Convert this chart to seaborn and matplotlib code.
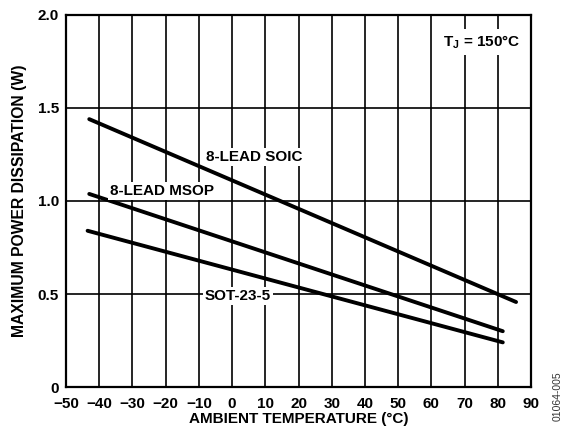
import matplotlib
matplotlib.use("Agg")
import matplotlib.pyplot as plt
import seaborn as sns
import pandas as pd

# Data
soic_temp = [-43.0, 85.5]
soic_power = [1.44, 0.457]
msop_temp = [-43.0, 81.5]
msop_power = [1.038, 0.30]
sot_temp = [-43.5, 81.5]
sot_power = [0.84, 0.24]

x_ticks = [-50, -40, -30, -20, -10, 0, 10, 20, 30, 40, 50, 60, 70, 80, 90]
y_ticks = [0, 0.5, 1.0, 1.5, 2.0]
y_tick_labels = ["0", "0.5", "1.0", "1.5", "2.0"]

rows = []
for name, xs, ys in [("8-LEAD SOIC", soic_temp, soic_power),
                     ("8-LEAD MSOP", msop_temp, msop_power),
                     ("SOT-23-5", sot_temp, sot_power)]:
    for x, y in zip(xs, ys):
        rows.append({"pkg": name, "temp": x, "power": y})
df = pd.DataFrame(rows)

sns.set_theme(style="white")
plt.rcParams["font.family"] = ["Liberation Sans", "DejaVu Sans"]
plt.rcParams["font.weight"] = "bold"
plt.rcParams["text.color"] = "black"
plt.rcParams["axes.labelcolor"] = "black"
plt.rcParams["xtick.color"] = "black"
plt.rcParams["ytick.color"] = "black"
plt.rcParams["mathtext.fontset"] = "custom"
plt.rcParams["mathtext.rm"] = "Liberation Sans:bold"
plt.rcParams["mathtext.bf"] = "Liberation Sans:bold"

fig = plt.figure(figsize=(5.7, 4.33), dpi=100)
ax = fig.add_axes([0.1158, 0.1062, 0.8158, 0.8592])

ax.set_xlim(-50, 90)
ax.set_ylim(0, 2.0)
ax.set_xticks(x_ticks)
ax.set_yticks(y_ticks)
ax.set_yticklabels(y_tick_labels)
ax.grid(True, color="black", linewidth=1.2)
ax.set_axisbelow(True)

sns.lineplot(data=df, x="temp", y="power", units="pkg", estimator=None,
             color="black", linewidth=2.8, ax=ax, legend=False, zorder=3)

for s in ax.spines.values():
    s.set_color("black")
    s.set_linewidth(1.6)
ax.tick_params(axis="x", length=0, labelsize=11, colors="black", pad=7)
ax.tick_params(axis="y", length=0, labelsize=11, colors="black", pad=5)
for lab in ax.get_xticklabels() + ax.get_yticklabels():
    lab.set_fontweight("bold")

ax.set_xlabel("AMBIENT TEMPERATURE (°C)", fontsize=11, fontweight="bold", labelpad=1, color="black")
ax.set_ylabel("MAXIMUM POWER DISSIPATION (W)", fontsize=11.3, fontweight="bold", labelpad=8, color="black")

box = dict(facecolor="white", edgecolor="none", pad=1.5)
ax.text(6.6, 1.237, "8-LEAD SOIC", fontsize=11, fontweight="bold", color="black", ha="center", va="center", bbox=box, zorder=4)
ax.text(-21, 1.055, "8-LEAD MSOP", fontsize=11, fontweight="bold", color="black", ha="center", va="center", bbox=box, zorder=4)
ax.text(1.8, 0.49, "SOT-23-5", fontsize=11, fontweight="bold", color="black", ha="center", va="center", bbox=box, zorder=4)
ax.text(75, 1.855, r"T$_\mathregular{J}$ = 150°C", fontsize=11, fontweight="bold", color="black",
        ha="center", va="center", bbox=dict(facecolor="white", edgecolor="none", pad=3), zorder=4)

fig.text(0.979, 0.085, "01064-005", rotation=90, fontsize=7.5, color="#333333",
         ha="center", va="center", fontweight="normal")

fig.savefig("out.png", dpi=100)
